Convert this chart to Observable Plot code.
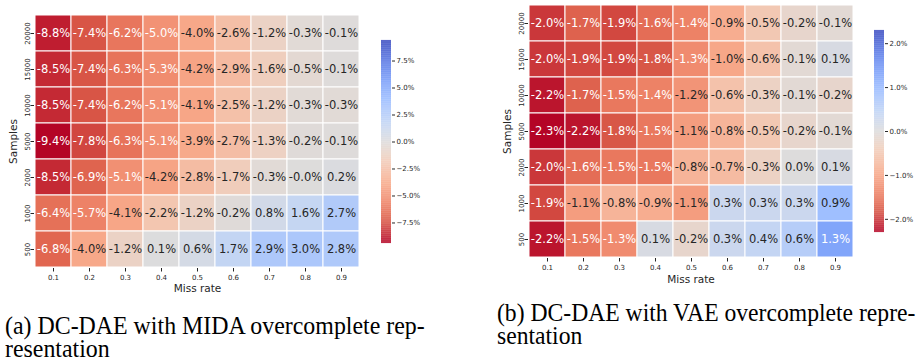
<!DOCTYPE html>
<html><head><meta charset="utf-8">
<script src="https://cdn.jsdelivr.net/npm/d3@7"></script>
<script src="https://cdn.jsdelivr.net/npm/@observablehq/plot@0.6"></script>
<style>
body{margin:0;background:#fff;}
#root{position:relative;width:917px;height:362px;overflow:hidden;background:#fff;}
.p{position:absolute;top:0;}
.cap{position:absolute;font-family:"Liberation Serif","Times New Roman",serif;font-size:25px;line-height:23px;color:#000;white-space:nowrap;transform-origin:0 0;}
</style></head><body><div id="root"></div>
<script>
// ---- data ----
const missRates = ["0.1","0.2","0.3","0.4","0.5","0.6","0.7","0.8","0.9"];
const samples = ["20000","15000","10000","5000","2000","1000","500"];
const midaValues = [
  [-8.8,-7.4,-6.2,-5.0,-4.0,-2.6,-1.2,-0.3,-0.1],
  [-8.5,-7.4,-6.3,-5.3,-4.2,-2.9,-1.6,-0.5,-0.1],
  [-8.5,-7.4,-6.2,-5.1,-4.1,-2.5,-1.2,-0.3,-0.3],
  [-9.4,-7.8,-6.3,-5.1,-3.9,-2.7,-1.3,-0.2,-0.1],
  [-8.5,-6.9,-5.1,-4.2,-2.8,-1.7,-0.3,-0.04,0.2],
  [-6.4,-5.7,-4.1,-2.2,-1.2,-0.2,0.8,1.6,2.7],
  [-6.8,-4.0,-1.2,0.1,0.6,1.7,2.9,3.0,2.8]
];
const vaeValues = [
  [-2.0,-1.7,-1.9,-1.6,-1.4,-0.9,-0.5,-0.2,-0.1],
  [-2.0,-1.9,-1.9,-1.8,-1.3,-1.0,-0.6,-0.1,0.1],
  [-2.2,-1.7,-1.5,-1.4,-1.2,-0.6,-0.3,-0.1,-0.2],
  [-2.3,-2.2,-1.8,-1.5,-1.1,-0.8,-0.5,-0.2,-0.1],
  [-2.0,-1.6,-1.5,-1.5,-0.8,-0.7,-0.3,0.0,0.1],
  [-1.9,-1.1,-0.8,-0.9,-1.1,0.3,0.3,0.3,0.9],
  [-2.2,-1.5,-1.3,0.1,-0.2,0.3,0.4,0.6,1.3]
];
const midaLimit = 9.4;
const vaeLimit = 2.3;
const midaTicks = [-7.5,-5,-2.5,0,2.5,5,7.5];
const vaeTicks = [-2,-1,0,1,2];
const captionA = ["(a) DC-DAE with MIDA overcomplete rep-", "resentation"];
const captionB = ["(b) DC-DAE with VAE overcomplete repre-", "sentation"];
const xLabel = "Miss rate";
const yLabel = "Samples";

// ---- colormap (coolwarm, reversed: negative = red) ----
const cwPos = [0,0.1,0.143,0.2,0.286,0.3,0.4,0.429,0.5,0.571,0.6,0.7,0.714,0.8,0.857,0.9,1];
const cwCol = ["#3b4cc0","#5977e3","#6788ee","#7b9ff9","#9abbff","#9ebeff","#c0d4f5","#c9d7f0","#dddcdc","#edd1c2","#f2cbb7","#f7ac8e","#f7a889","#ee8468","#e26952","#d65244","#b40426"];

function colorSpec(vmax) {
  const domain = [], range = [];
  for (let i = cwPos.length - 1; i >= 0; i--) {
    domain.push((0.5 - cwPos[i]) * 2 * vmax);
    range.push(cwCol[i]);
  }
  return {domain, range};
}
function luminance(c) {
  const rgb = d3.rgb(c);
  const f = v => { v /= 255; return v <= 0.03928 ? v / 12.92 : Math.pow((v + 0.055) / 1.055, 2.4); };
  return 0.2126 * f(rgb.r) + 0.7152 * f(rgb.g) + 0.0722 * f(rgb.b);
}

const root = document.getElementById("root");
function place(node, left, top) {
  node.classList.add("p");
  node.style.left = left + "px";
  node.style.top = top + "px";
  root.appendChild(node);
}

function heatmap(values, vmax, g) {
  const spec = colorSpec(vmax);
  const cs = d3.scaleLinear().domain(spec.domain).range(spec.range).interpolate(d3.interpolateRgb).clamp(true);
  const data = [];
  samples.forEach((s, i) => missRates.forEach((r, j) => data.push({s, r, v: values[i][j]})));
  const light = data.filter(d => luminance(cs(d.v)) > 0.408);
  const dark = data.filter(d => luminance(cs(d.v)) <= 0.408);
  const fmt = d => d.v.toFixed(1) + "%";
  return Plot.plot({
    width: g.width, height: g.height,
    marginLeft: g.ml, marginRight: g.mr, marginTop: g.mt, marginBottom: g.mb,
    style: {fontFamily: "DejaVu Sans, sans-serif", fontSize: "7px", color: "#262626", background: "transparent"},
    x: {domain: missRates, padding: 0, label: null},
    y: {domain: samples, padding: 0, label: null},
    color: {type: "linear", domain: spec.domain, range: spec.range, interpolate: "rgb", clamp: true},
    marks: [
      Plot.cell(data, {x: "r", y: "s", fill: "v", stroke: "white", strokeWidth: 1}),
      Plot.text(light, {x: "r", y: "s", text: fmt, fill: "#262626", fontSize: 11.5}),
      Plot.text(dark, {x: "r", y: "s", text: fmt, fill: "white", fontSize: 11.5}),
      Plot.axisX({tickSize: 3.5, tickPadding: 3, fontSize: 7, label: null}),
      Plot.axisY({tickSize: 3.5, tickPadding: 1.5, fontSize: 7, tickRotate: -90, label: null}),
      Plot.text([xLabel], {text: d => d, frameAnchor: "bottom", lineAnchor: "middle", dy: g.xdy, fontSize: 10.5, fill: "#262626"}),
      Plot.text([yLabel], {text: d => d, frameAnchor: "left", textAnchor: "middle", lineAnchor: "middle", dx: -21, rotate: -90, fontSize: 10.5, fill: "#262626"})
    ]
  });
}

function colorbar(vmax, ticks, g) {
  const spec = colorSpec(vmax);
  const n = 300, step = 2 * vmax / n;
  const grad = d3.range(n).map(i => -vmax + (i + 0.5) * step);
  return Plot.plot({
    width: g.width, height: g.height,
    marginLeft: g.ml, marginRight: g.mr, marginTop: g.mt, marginBottom: g.mb,
    style: {fontFamily: "DejaVu Sans, sans-serif", fontSize: "7px", color: "#262626", background: "transparent"},
    x: {domain: [0, 1], axis: null},
    y: {domain: [-vmax, vmax]},
    color: {type: "linear", domain: spec.domain, range: spec.range, interpolate: "rgb", clamp: true},
    marks: [
      Plot.rect(grad, {x1: 0, x2: 1, y1: d => d - step * 0.6, y2: d => d + step * 0.6, fill: d => d}),
      Plot.axisY({anchor: "right", ticks: ticks, tickSize: 3, tickPadding: 2, fontSize: 7, label: null,
        tickFormat: d => (d < 0 ? "\u2212" : "") + Math.abs(d).toFixed(1) + "%"})
    ]
  });
}

place(heatmap(midaValues, midaLimit, {width: 370, height: 300, ml: 34, mr: 10, mt: 14, mb: 32, xdy: 20}), 0, 0);
place(colorbar(midaLimit, midaTicks, {width: 60, height: 260, ml: 11, mr: 39, mt: 40, mb: 17}), 370, 0);
place(heatmap(vaeValues, vaeLimit, {width: 393, height: 300, ml: 58, mr: 10, mt: 4, mb: 42, xdy: 21}), 470, 0);
place(colorbar(vaeLimit, vaeTicks, {width: 54, height: 250, ml: 11, mr: 33, mt: 30, mb: 18}), 863, 0);

function caption(lines, left, top, sx) {
  const d = document.createElement("div");
  d.className = "cap";
  d.style.left = left + "px";
  d.style.top = top + "px";
  d.style.transform = "scaleX(" + sx + ")";
  lines.forEach((t, i) => {
    if (i) d.appendChild(document.createElement("br"));
    d.appendChild(document.createTextNode(t));
  });
  root.appendChild(d);
}
caption(captionA, 5, 314, 0.955);
caption(captionB, 497, 301, 0.945);
</script></body></html>
